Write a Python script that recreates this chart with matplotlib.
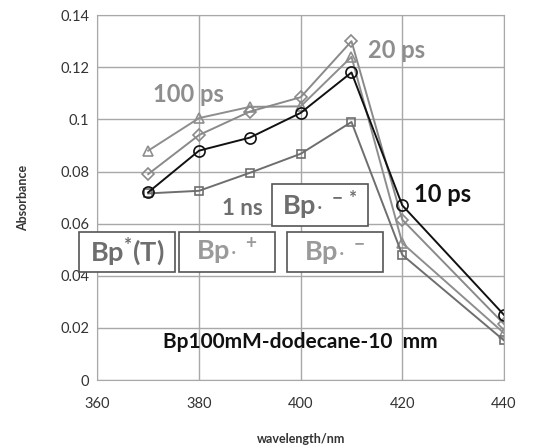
import matplotlib.pyplot as plt
from matplotlib.patches import Rectangle

plt.rcParams['font.family'] = ['Lato', 'DejaVu Sans']
plt.rcParams['mathtext.fontset'] = 'custom'
plt.rcParams['mathtext.rm'] = 'Lato:bold'
plt.rcParams['mathtext.it'] = 'Lato:bold'
plt.rcParams['mathtext.bf'] = 'Lato:bold'

# wavelength (nm) and absorbance for each delay
wavelength = [370, 380, 390, 400, 410, 420, 440]
abs_10ps = [0.072, 0.088, 0.093, 0.1025, 0.118, 0.067, 0.025]
abs_20ps = [0.079, 0.094, 0.103, 0.1085, 0.130, 0.0615, 0.0215]
abs_100ps = [0.088, 0.1005, 0.1048, 0.105, 0.124, 0.0525, 0.018]
abs_1ns = [0.0716, 0.0726, 0.0795, 0.0868, 0.099, 0.048, 0.0152]

x_ticks = [360, 380, 400, 420, 440]
y_ticks = [0, 0.02, 0.04, 0.06, 0.08, 0.1, 0.12, 0.14]
y_ticklabels = ['0', '0.02', '0.04', '0.06', '0.08', '0.1', '0.12', '0.14']

fig = plt.figure(figsize=(5.35, 4.45), dpi=100)
ax = fig.add_axes([0.182, 0.146, 0.760, 0.820])

mk = dict(markerfacecolor='none', markersize=7, markeredgewidth=1.2, linewidth=1.4)
ax.plot(wavelength, abs_100ps, marker='^', color='#8e8e8e', **mk)
ax.plot(wavelength, abs_20ps, marker='D', color='#8a8a8a', **dict(mk, markersize=6))
ax.plot(wavelength, abs_1ns, marker='s', color='#6e6e6e', **dict(mk, markersize=6))
ax.plot(wavelength, abs_10ps, marker='o', color='#111111', **dict(mk, markersize=8))

ax.set_xlim(360, 440)
ax.set_ylim(0, 0.14)
ax.set_xticks(x_ticks)
ax.set_yticks(y_ticks)
ax.set_yticklabels(y_ticklabels)
ax.grid(True, color='#a8a8a8', linewidth=1.0)
ax.set_axisbelow(True)
for s in ax.spines.values():
    s.set_color('#a8a8a8')
ax.tick_params(length=0, labelsize=10.5, colors='#333333', pad=6)
ax.tick_params(axis='x', pad=12)
ax.set_xlabel('wavelength/nm', fontsize=9, fontweight='bold', color='#333333', labelpad=16)
ax.set_ylabel('Absorbance', fontsize=9, fontweight='bold', color='#333333', labelpad=22)

# delay labels
ax.text(188 / 535, 1 - 94 / 445, '100 ps', transform=fig.transFigure, fontsize=17,
        fontweight='bold', color='#8e8e8e', ha='center', va='center')
ax.text(397 / 535, 1 - 50 / 445, '20 ps', transform=fig.transFigure, fontsize=17,
        fontweight='bold', color='#8e8e8e', ha='center', va='center')
ax.text(443 / 535, 1 - 194 / 445, '10 ps', transform=fig.transFigure, fontsize=17,
        fontweight='bold', color='#111111', ha='center', va='center')
ax.text(242 / 535, 1 - 208 / 445, '1 ns', transform=fig.transFigure, fontsize=16,
        fontweight='bold', color='#6e6e6e', ha='center', va='center')
ax.text(300 / 535, 1 - 342 / 445, 'Bp100mM-dodecane-10  mm', transform=fig.transFigure,
        fontsize=15, fontweight='bold', color='#111111', ha='center', va='center')

# species boxes (pixel extents in the figure)
boxes = [
    (79, 175, 232, 272, r'Bp$^{*}$(T)', '#6e6e6e'),
    (179, 275, 232, 272, r'Bp$\cdot^{\ +}$', '#9a9a9a'),
    (287, 383, 232, 272, r'Bp$\cdot^{\ -}$', '#9a9a9a'),
    (272, 368, 184, 226, r'Bp$\cdot^{\ -*}$', '#6e6e6e'),
]
W, H = 535, 445
for x0, x1, y0, y1, label, c in boxes:
    fig.patches.append(Rectangle((x0 / W, 1 - y1 / H), (x1 - x0) / W, (y1 - y0) / H,
                                 transform=fig.transFigure, facecolor='white',
                                 edgecolor='#555555', linewidth=1.2, zorder=5))
    fig.text((x0 + x1) / 2 / W, 1 - (y0 + y1) / 2 / H, label, fontsize=19.5,
             fontweight='bold', color=c, ha='center', va='center', zorder=6)

fig.savefig('out.png', dpi=100)
